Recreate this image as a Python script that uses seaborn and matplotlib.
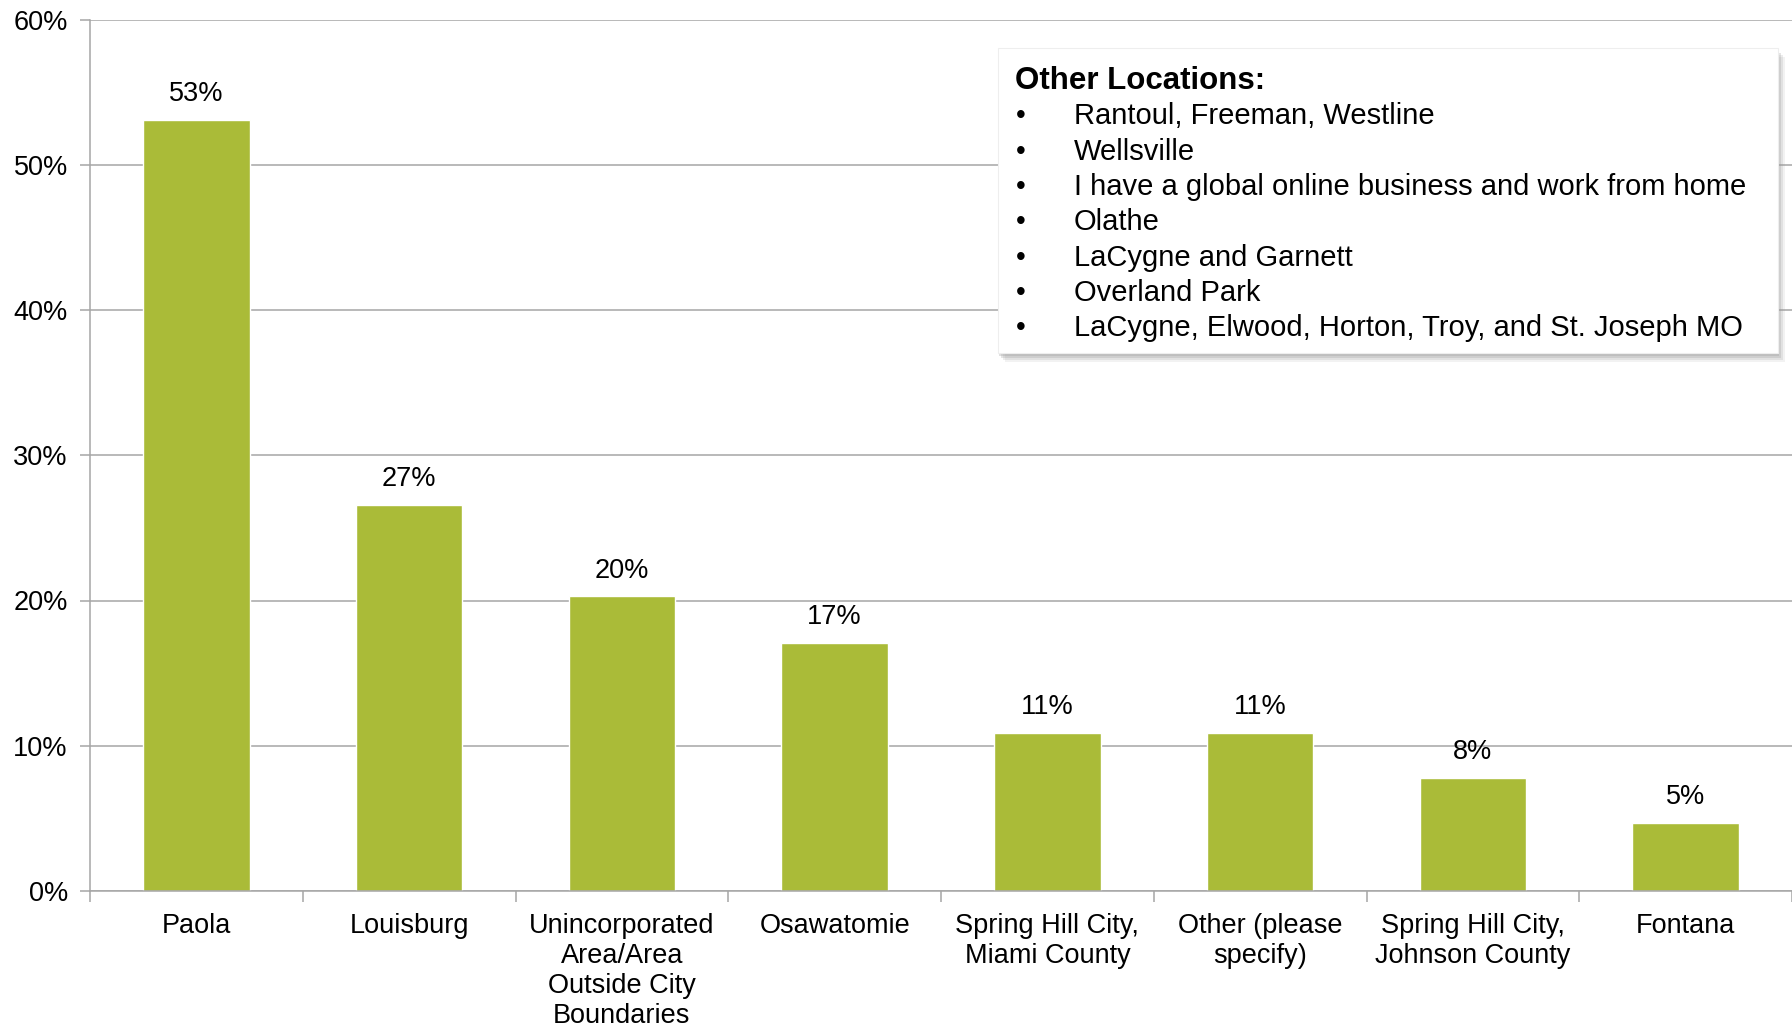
import matplotlib
matplotlib.use("Agg")
import matplotlib.pyplot as plt
import seaborn as sns
import pandas as pd
from matplotlib.patches import FancyBboxPatch
from matplotlib.ticker import FuncFormatter, FixedLocator

categories = ["Paola", "Louisburg", "Unincorporated\nArea/Area\nOutside City\nBoundaries",
              "Osawatomie", "Spring Hill City,\nMiami County", "Other (please\nspecify)",
              "Spring Hill City,\nJohnson County", "Fontana"]
values = [53.1, 26.6, 20.3, 17.1, 10.9, 10.9, 7.8, 4.7]
y_ticks = [0, 10, 20, 30, 40, 50, 60]

box_title = "Other Locations:"
box_items = ["Rantoul, Freeman, Westline",
             "Wellsville",
             "I have a global online business and work from home",
             "Olathe",
             "LaCygne and Garnett",
             "Overland Park",
             "LaCygne, Elwood, Horton, Troy, and St. Joseph MO"]

sns.set_style("white")
plt.rcParams['font.family'] = ['Liberation Sans', 'DejaVu Sans']
plt.rcParams['text.color'] = 'black'
plt.rcParams['xtick.labelcolor'] = 'black'
plt.rcParams['ytick.labelcolor'] = 'black'

W, H = 1792, 1026
fig = plt.figure(figsize=(W / 100, H / 100), dpi=100)
ax = fig.add_axes([90 / W, 1 - 891 / H, 1 - 90 / W, (891 - 19.5) / H])

df = pd.DataFrame({"cat": categories, "val": values})
sns.barplot(data=df, x="cat", y="val", color="#AABB38", saturation=1, width=0.5, ax=ax)

ax.set_ylim(0, 60)
ax.set_xlim(-0.5, len(categories) - 0.5)
ax.set_yticks(y_ticks)
ax.yaxis.set_major_formatter(FuncFormatter(lambda v, p: f"{v:.0f}%"))
ax.grid(axis="y", color="#A6A6A6", linewidth=1.1)
ax.set_axisbelow(True)
ax.set_xlabel("")
ax.set_ylabel("")

for s in ["top", "right"]:
    ax.spines[s].set_visible(False)
for s in ["left", "bottom"]:
    ax.spines[s].set_color("#A6A6A6")
    ax.spines[s].set_linewidth(1.1)

ax.tick_params(axis="y", length=7, color="#A6A6A6", width=1.1, labelsize=19.5, pad=9, left=True,
               labelcolor="black")
ax.tick_params(axis="x", which="major", length=0, labelsize=19.5, pad=16, labelcolor="black")
ax.xaxis.set_minor_locator(FixedLocator([i - 0.5 for i in range(len(categories) + 1)]))
ax.tick_params(axis="x", which="minor", length=8, color="#A6A6A6", width=1.1, bottom=True)
for lab in ax.get_xticklabels():
    lab.set_linespacing(1.2)

ax.bar_label(ax.containers[0], labels=[f"{v:.0f}%" for v in values], padding=9, fontsize=19.5,
             color="black")

# text box with shadow
x0, y0, x1, y1 = 998, 48, 1778, 353
for k, a in [(9, 0.12), (7, 0.18), (5, 0.25), (3, 0.3)]:
    fig.patches.append(FancyBboxPatch((x0 + k - 2, H - y1 - k), x1 - x0, y1 - y0, boxstyle="square,pad=0",
                                      transform=None, facecolor="#999999", edgecolor="none", alpha=a, zorder=5))
box = FancyBboxPatch((x0, H - y1), x1 - x0, y1 - y0, boxstyle="square,pad=0",
                     transform=None, facecolor="white", edgecolor="#EEEEEE", linewidth=0.8, zorder=6)
fig.patches.append(box)

fig.text(1015 / W, 1 - 81 / H, box_title, fontsize=22.5, fontweight="bold", va="center", ha="left",
         color="black", zorder=7)
row_y = [116, 151.5, 187, 222.5, 258, 293, 328.5]
for y, item in zip(row_y, box_items):
    fig.text(1016 / W, 1 - y / H, "•", fontsize=20, va="center", ha="left", color="black", zorder=7)
    fig.text(1074 / W, 1 - y / H, item, fontsize=21, va="center", ha="left", color="black", zorder=7)

fig.savefig("out.png", dpi=100)
